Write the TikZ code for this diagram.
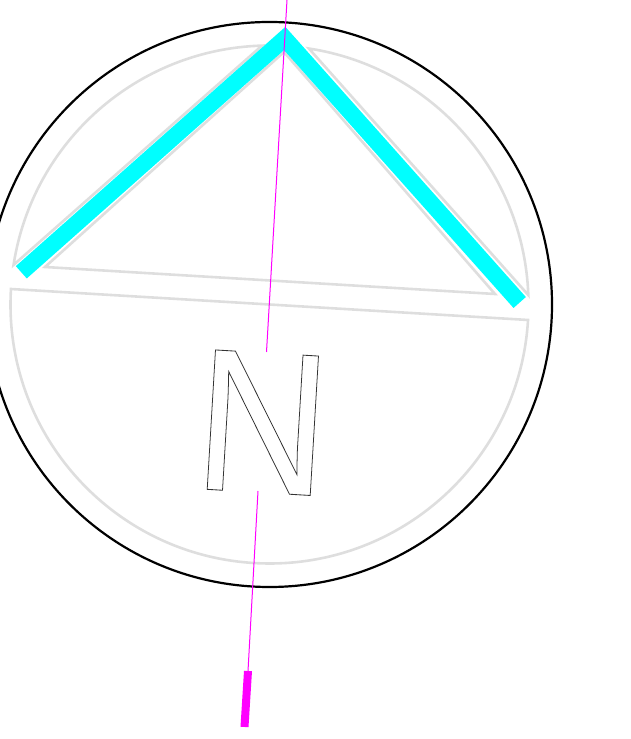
\documentclass[tikz,border=0pt]{standalone}
\usepackage{fontspec}
\setmainfont{Liberation Sans}
\definecolor{outlinegray}{HTML}{DEDEDE}
\definecolor{bandcyan}{HTML}{00FFFF}
\definecolor{axismag}{HTML}{FF00FF}
\tikzset{
  outlineshape/.style={draw=outlinegray,line width=2.6pt,line join=miter},
  band/.style={draw=bandcyan,line width=16.5pt,line join=miter,miter limit=10},
  axisline/.style={draw=axismag,line width=1pt},
  axisfoot/.style={draw=axismag,line width=8pt},
  ring/.style={draw=black,line width=2.2pt}
}
\begin{document}
\begin{tikzpicture}[x=1pt,y=1pt]
\useasboundingbox (0,0) rectangle (631,739);
\coordinate (c) at (269.5,434.5);
% inner outlines
\draw[outlineshape] (c)++(176.57:259) arc[start angle=176.57,end angle=356.57,radius=259] -- cycle;
\draw[outlineshape] (c)++(171.21:259) arc[start angle=171.21,end angle=91.66,radius=259] -- cycle;
\draw[outlineshape] (c)++(81.25:259) arc[start angle=81.25,end angle=2.1,radius=259] -- cycle;
\draw[outlineshape] (284,687) -- (45,472) -- (495,445) -- cycle;
% outer ring
\draw[ring] (c) circle[radius=282.5];
% band
\draw[band] (21.3,466.7) -- (284.7,700.5) -- (519.7,436.5);
% axis
\coordinate (a1) at (287,739);
\coordinate (a2) at (266.5,387);
\coordinate (a3) at (258,248);
\coordinate (a4) at (248,68);
\coordinate (a5) at (244.5,12);
\draw[axisline] (a1) -- (a2);
\draw[axisline] (a3) -- (a4);
\draw[axisfoot] (a4) -- (a5);
% letter
\node[inner sep=0pt,rotate=-3.4,xscale=0.91] (northletter) at (262.8,316.3)
  {\fontsize{203}{203}\selectfont\special{pdf:code 1 Tr 0.85 w 0.2 G}N\special{pdf:code 0 Tr 1 w 0 G}};
\end{tikzpicture}
\end{document}
